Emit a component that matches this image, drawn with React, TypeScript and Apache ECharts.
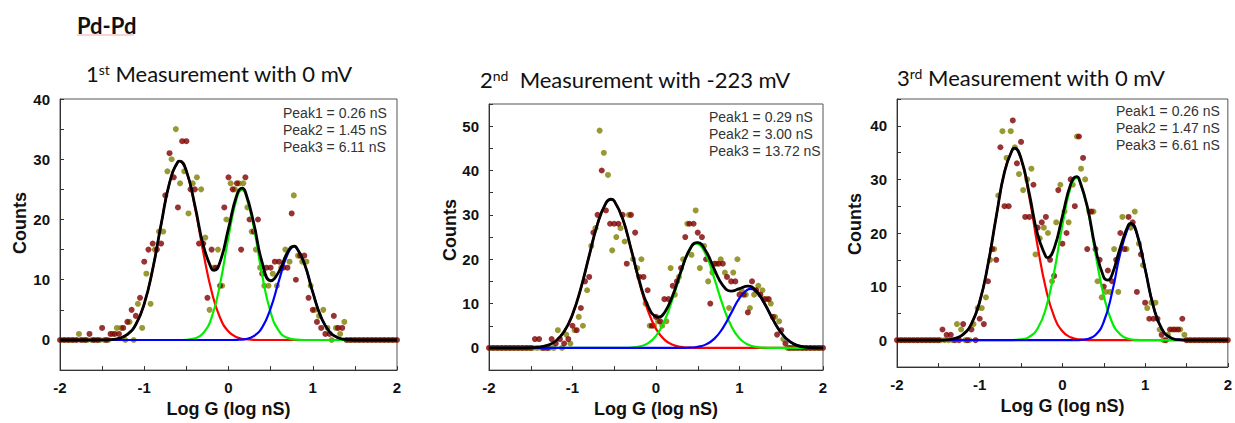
import React, { useEffect, useRef } from "react";
import * as echarts from "echarts";

// ---------- shared x positions ----------
const BINS_DR = [-2, -1.95, -1.9, -1.85, -1.8, -1.75, -1.7, -1.65, -1.6, -1.55, -1.5, -1.45, -1.4, -1.35, -1.3, -1.25, -1.2, -1.15, -1.1, -1.05,
  -1, -0.95, -0.9, -0.85, -0.8, -0.75, -0.7, -0.65, -0.6, -0.55, -0.5, -0.45, -0.4, -0.35, -0.3, -0.25, -0.2, -0.15, -0.1, -0.05,
  0, 0.05, 0.1, 0.15, 0.2, 0.25, 0.3, 0.35, 0.4, 0.45, 0.5, 0.55, 0.6, 0.65, 0.7, 0.75, 0.8, 0.85, 0.9, 0.95,
  1, 1.05, 1.1, 1.15, 1.2, 1.25, 1.3, 1.35, 1.4, 1.45, 1.5, 1.55, 1.6, 1.65, 1.7, 1.75, 1.8, 1.85, 1.9, 1.95, 2];
const BINS_OL = [-1.975, -1.925, -1.875, -1.825, -1.775, -1.725, -1.675, -1.625, -1.575, -1.525, -1.475, -1.425, -1.375, -1.325, -1.275, -1.225, -1.175, -1.125, -1.075, -1.025,
  -0.975, -0.925, -0.875, -0.825, -0.775, -0.725, -0.675, -0.625, -0.575, -0.525, -0.475, -0.425, -0.375, -0.325, -0.275, -0.225, -0.175, -0.125, -0.075, -0.025,
  0.025, 0.075, 0.125, 0.175, 0.225, 0.275, 0.325, 0.375, 0.425, 0.475, 0.525, 0.575, 0.625, 0.675, 0.725, 0.775, 0.825, 0.875, 0.925, 0.975,
  1.025, 1.075, 1.125, 1.175, 1.225, 1.275, 1.325, 1.375, 1.425, 1.475, 1.525, 1.575, 1.625, 1.675, 1.725, 1.775, 1.825, 1.875, 1.925, 1.975];
const FIT_X = [-2, -1.9, -1.8, -1.7, -1.6, -1.5, -1.4, -1.3, -1.2, -1.1,
  -1, -0.9, -0.8, -0.7, -0.6, -0.5, -0.4, -0.3, -0.2, -0.1,
  0, 0.1, 0.2, 0.3, 0.4, 0.5, 0.6, 0.7, 0.8, 0.9,
  1, 1.1, 1.2, 1.3, 1.4, 1.5, 1.6, 1.7, 1.8, 1.9, 2];

// ---------- panel 1 : 1st measurement, 0 mV ----------
const DR1 = [0, 0, 0, 0, 0, 0, 0, 1, 0, 0, 2, 0, 1, 1, 1, 2, 3, 5, 4, 7,
  13, 15, 16, 15, 16, 24, 31, 27, 22, 33, 33, 25, 25, 16, 16, 7, 15, 12, 9, 22,
  27, 25, 26, 15, 27, 20, 18, 20, 11, 12, 12, 13, 13, 12, 12, 21, 10, 14, 14, 7,
  5, 3, 2, 1, 1, 4, 2, 2, 0, 0, 0, 0, 0, 0, 0, 0, 0, 0, 0, 0, 0];
const OL1 = [0, 0, 0, 0, 1, 0, 0, 0, 0, 0, 0, 0, 1, 2, 2, 0, 3, 0, 6, 2,
  11, 6, 15, 18, 18, 28, 30, 35, 26, 28, 21, 26, 27, 25, 17, 5, 12, 15, 9, 20,
  26, 25, 26, 26, 22, 18, 15, 12, 9, 9, 11, 9, 12, 15, 13, 24, 14, 13, 13, 9,
  5, 4, 5, 2, 0, 2, 1, 3, 0, 0, 0, 0, 0, 0, 0, 0, 0, 0, 0, 0];
const RED1 = [0, 0, 0, 0, 0, 0.01, 0.07, 0.27, 0.92, 2.57,
  6.01, 11.75, 19.16, 26.07, 29.6, 28.03, 22.15, 14.6, 8.04, 3.69,
  1.41, 0.45, 0.12, 0.03, 0, 0, 0, 0, 0, 0,
  0, 0, 0, 0, 0, 0, 0, 0, 0, 0, 0];
const GREEN1 = [0, 0, 0, 0, 0, 0, 0, 0, 0, 0,
  0, 0, 0, 0, 0, 0.04, 0.26, 1.13, 3.75, 9.28,
  17.13, 23.63, 24.33, 18.7, 10.73, 4.6, 1.47, 0.35, 0.06, 0,
  0, 0, 0, 0, 0, 0, 0, 0, 0, 0, 0];
const BLUE1 = [0, 0, 0, 0, 0, 0, 0, 0, 0, 0,
  0, 0, 0, 0, 0, 0, 0, 0, 0, 0,
  0, 0.03, 0.15, 0.64, 2.1, 5.23, 9.9, 14.19, 15.41, 12.7,
  7.93, 3.75, 1.35, 0.37, 0.08, 0, 0, 0, 0, 0, 0];
const BLACK1 = [0, 0, 0, 0, 0, 0.01, 0.07, 0.27, 0.92, 2.57,
  6.01, 11.75, 19.16, 26.07, 29.6, 28.07, 22.41, 15.73, 11.79, 12.97,
  18.54, 24.11, 24.6, 19.37, 12.83, 9.83, 11.37, 14.54, 15.47, 12.7,
  7.93, 3.75, 1.35, 0.37, 0.08, 0, 0, 0, 0, 0, 0];
// extra points read at the peaks / valleys of each fitted curve: [x, y]
const RED1_EXTRA = [[-0.58, 29.7]];
const GREEN1_EXTRA = [[0.16, 24.9]];
const BLUE1_EXTRA = [[0.78, 15.5]];
const BLACK1_EXTRA = [[-0.58, 29.7], [-0.17, 11.55], [0.16, 25.19], [0.78, 15.59]];
const PEAKS1 = ["Peak1 = 0.26 nS", "Peak2 = 1.45 nS", "Peak3 = 6.11 nS"];

// ---------- panel 2 : 2nd measurement, -223 mV ----------
const DR2 = [0, 0, 0, 0, 0, 0, 0, 0, 0, 0, 0, 2, 2, 0, 0, 2, 1, 2, 1, 2,
  5, 4, 9, 15, 16, 26, 30, 40, 31, 28, 28, 28, 30, 19, 30, 26, 16, 16, 13, 5,
  7, 6, 11, 11, 14, 15, 18, 25, 28, 28, 26, 25, 20, 10, 19, 19, 19, 16, 15, 15,
  12, 12, 8, 15, 13, 12, 11, 11, 7, 3, 4, 1, 0, 0, 0, 0, 0, 0, 0, 0, 0];
const OL2 = [0, 0, 0, 0, 0, 0, 0, 0, 0, 0, 0, 0, 0, 0, 0, 0, 4, 0, 3, 1,
  4, 7, 5, 13, 23, 27, 49, 44, 39, 22, 25, 27, 24, 30, 20, 18, 20, 10, 5, 5,
  6, 5, 6, 18, 12, 16, 20, 28, 21, 31, 18, 23, 15, 17, 19, 20, 17, 9, 17, 20,
  13, 12, 9, 12, 14, 13, 11, 10, 7, 6, 2, 0, 0, 0, 0, 0, 0, 0, 0, 0];
const RED2 = [0, 0, 0, 0, 0.01, 0.05, 0.18, 0.57, 1.56, 3.69,
  7.55, 13.45, 20.81, 27.97, 32.66, 33.12, 29.18, 22.33, 14.84, 8.57,
  4.3, 1.87, 0.71, 0.23, 0.07, 0.02, 0, 0, 0, 0,
  0, 0, 0, 0, 0, 0, 0, 0, 0, 0, 0];
const GREEN2 = [0, 0, 0, 0, 0, 0, 0, 0, 0, 0,
  0, 0, 0, 0, 0, 0, 0.02, 0.08, 0.32, 1.02,
  2.72, 6.02, 11.11, 17.1, 21.94, 23.46, 20.92, 15.56, 9.64, 4.98,
  2.15, 0.77, 0.23, 0.06, 0.01, 0, 0, 0, 0, 0, 0];
const BLUE2 = [0, 0, 0, 0, 0, 0, 0, 0, 0, 0,
  0, 0, 0, 0, 0, 0, 0, 0, 0, 0,
  0, 0, 0, 0, 0.06, 0.25, 0.8, 2.09, 4.48, 7.84,
  11.23, 13.18, 12.66, 9.96, 6.42, 3.38, 1.46, 0.52, 0.15, 0.04, 0.01];
const BLACK2 = [0, 0, 0, 0, 0.01, 0.05, 0.18, 0.57, 1.56, 3.69,
  7.55, 13.45, 20.81, 27.97, 32.66, 33.12, 29.2, 22.41, 15.16, 9.59,
  7.02, 7.89, 11.82, 17.33, 22.07, 23.73, 21.72, 17.65, 14.12, 12.82,
  13.38, 13.95, 12.89, 10.02, 6.43, 3.38, 1.46, 0.52, 0.15, 0.04, 0.01];
const RED2_EXTRA = [[-0.54, 33.5]];
const GREEN2_EXTRA = [[0.487, 23.5]];
const BLUE2_EXTRA = [[1.13, 13.3]];
const BLACK2_EXTRA = [[-0.54, 33.52], [0.03, 6.92], [0.487, 23.73]];
const PEAKS2 = ["Peak1 = 0.29 nS", "Peak2 = 3.00 nS", "Peak3 = 13.72 nS"];

// ---------- panel 3 : 3rd measurement, 0 mV ----------
const DR3 = [0, 0, 0, 0, 0, 0, 0, 0, 0, 0, 0, 2, 1, 1, 0, 0, 3, 0, 2, 0,
  4, 3, 11, 17, 15, 36, 25, 25, 41, 33, 37, 23, 23, 29, 21, 22, 23, 15, 12, 28,
  18, 20, 30, 25, 38, 34, 17, 24, 17, 15, 10, 13, 11, 15, 20, 17, 23, 22, 9, 16,
  7, 4, 4, 4, 1, 0, 2, 2, 2, 4, 0, 0, 0, 0, 0, 0, 0, 0, 0, 0, 0];
const OL3 = [0, 0, 0, 0, 0, 0, 0, 0, 0, 0, 0, 0, 0, 0, 3, 2, 0, 0, 3, 6,
  6, 8, 15, 17, 27, 39, 34, 39, 36, 31, 28, 30, 32, 16, 19, 21, 20, 11, 22, 29,
  24, 22, 29, 38, 32, 30, 24, 24, 11, 8, 9, 9, 17, 9, 23, 17, 21, 24, 18, 14,
  6, 7, 7, 2, 0, 1, 2, 2, 2, 1, 0, 0, 0, 0, 0, 0, 0, 0, 0, 0];
const RED3 = [0, 0, 0, 0, 0, 0.02, 0.08, 0.32, 1.09, 3.06,
  7.2, 14.11, 23.06, 31.4, 35.67, 33.78, 26.67, 17.55, 9.63, 4.41,
  1.68, 0.53, 0.14, 0.03, 0, 0, 0, 0, 0, 0,
  0, 0, 0, 0, 0, 0, 0, 0, 0, 0, 0];
const GREEN3 = [0, 0, 0, 0, 0, 0, 0, 0, 0, 0,
  0, 0, 0, 0, 0.03, 0.14, 0.63, 2.18, 5.94, 12.72,
  21.48, 28.58, 29.98, 24.78, 16.14, 8.29, 3.35, 1.07, 0.27, 0.05,
  0.01, 0, 0, 0, 0, 0, 0, 0, 0, 0, 0];
const BLUE3 = [0, 0, 0, 0, 0, 0, 0, 0, 0, 0,
  0, 0, 0, 0, 0, 0, 0, 0, 0, 0,
  0, 0, 0.03, 0.19, 0.95, 3.44, 8.85, 16.24, 21.28, 19.89,
  13.27, 6.32, 2.15, 0.52, 0.09, 0.01, 0, 0, 0, 0, 0];
const BLACK3 = [0, 0, 0, 0, 0, 0.02, 0.08, 0.32, 1.09, 3.06,
  7.2, 14.11, 23.06, 31.4, 35.7, 33.92, 27.3, 19.73, 15.57, 17.13,
  23.16, 29.11, 30.15, 25.0, 17.09, 11.73, 12.2, 17.31, 21.55, 19.94,
  13.28, 6.32, 2.15, 0.52, 0.09, 0.01, 0, 0, 0, 0, 0];
const RED3_EXTRA = [[-0.58, 35.8]];
const GREEN3_EXTRA = [[0.17, 30.3]];
const BLUE3_EXTRA = [[0.83, 21.6]];
const BLACK3_EXTRA = [[-0.58, 35.84], [-0.18, 15.41], [0.17, 30.53], [0.55, 11.19], [0.83, 21.77]];
const PEAKS3 = ["Peak1 = 0.26 nS", "Peak2 = 1.47 nS", "Peak3 = 6.61 nS"];

// ---------- texts ----------
const HEADING = "Pd-Pd";
const TITLES = [
  ["1", "st", " Measurement with 0 mV"],
  ["2", "nd", "  Measurement with -223 mV"],
  ["3", "rd", " Measurement with 0 mV"],
];
const X_NAME = "Log G (log nS)";
const Y_NAME = "Counts";
const Y_MAX = [40, 55, 45];

// ---------- layout ----------
const LAYOUT = [
  { grid: { left: 60, top: 99, width: 337, height: 272 }, title: [86, 73], yName: [20, 223], peaks: [283, 113] },
  { grid: { left: 489, top: 104, width: 334, height: 270 }, title: [480, 79], yName: [450, 230], peaks: [709, 117] },
  { grid: { left: 897, top: 99, width: 332, height: 268 }, title: [897, 77], yName: [855, 224], peaks: [1116, 111] },
];

const DATA = [
  { dr: DR1, ol: OL1, peaks: PEAKS1,
    curves: [[RED1, RED1_EXTRA], [GREEN1, GREEN1_EXTRA], [BLUE1, BLUE1_EXTRA], [BLACK1, BLACK1_EXTRA]] },
  { dr: DR2, ol: OL2, peaks: PEAKS2,
    curves: [[RED2, RED2_EXTRA], [GREEN2, GREEN2_EXTRA], [BLUE2, BLUE2_EXTRA], [BLACK2, BLACK2_EXTRA]] },
  { dr: DR3, ol: OL3, peaks: PEAKS3,
    curves: [[RED3, RED3_EXTRA], [GREEN3, GREEN3_EXTRA], [BLUE3, BLUE3_EXTRA], [BLACK3, BLACK3_EXTRA]] },
];
const CURVE_STYLE = [
  { color: "#ff0000", width: 2.2 },
  { color: "#00ee00", width: 2.2 },
  { color: "#0000ff", width: 2.2 },
  { color: "#000000", width: 2.8 },
];

const pairs = (xs: number[], ys: number[]) => xs.map((x, i) => [x, ys[i]]);
const mergeCurve = (ys: number[], extra: number[][]) =>
  pairs(FIT_X, ys)
    .filter(([x]) => !extra.some(([ex]) => Math.abs(ex - x) < 1e-9))
    .concat(extra.map(([x, y]) => [x, y]))
    .sort((a, b) => a[0] - b[0]);

export default function App() {
  const ref = useRef<HTMLDivElement>(null);
  useEffect(() => {
    const chart = echarts.init(ref.current!, null, { renderer: "svg" });
    const axisColor = "#333";
    const grids: any[] = [];
    const xAxes: any[] = [];
    const yAxes: any[] = [];
    const series: any[] = [];
    const graphics: any[] = [];

    graphics.push({
      type: "text", x: 77, y: 25,
      style: { text: HEADING, fontFamily: "Lato", fontWeight: "bold", fontSize: 22, fill: "#111", verticalAlign: "middle" },
    });
    graphics.push({
      type: "line", shape: { x1: 77, y1: 35, x2: 134, y2: 35 },
      style: { stroke: "#f2a9a9", lineWidth: 1 },
    });

    LAYOUT.forEach((lay, i) => {
      const d = DATA[i];
      grids.push({ ...lay.grid, show: true, borderColor: "#555", borderWidth: 1, containLabel: false });
      xAxes.push({
        type: "value", gridIndex: i, min: -2, max: 2, interval: 0.5,
        axisLine: { show: true, onZero: false, lineStyle: { color: axisColor, width: 1 } },
        axisTick: { show: true, inside: true, length: 4, lineStyle: { color: axisColor } },
        splitLine: { show: false },
        axisLabel: {
          margin: 10, color: "#111", fontFamily: "Liberation Sans", fontWeight: "bold", fontSize: 15,
          formatter: (v: number) => (Number.isInteger(v) ? String(v) : ""),
        },
        name: X_NAME, nameLocation: "middle", nameGap: 29,
        nameTextStyle: { fontFamily: "Liberation Sans", fontWeight: "bold", fontSize: 18, color: "#111" },
      });
      yAxes.push({
        type: "value", gridIndex: i, min: -5, max: Y_MAX[i], interval: 5,
        axisLine: { show: true, onZero: false, lineStyle: { color: axisColor, width: 1 } },
        axisTick: { show: true, inside: true, length: 4, lineStyle: { color: axisColor } },
        splitLine: { show: false },
        axisLabel: {
          margin: 10, color: "#111", fontFamily: "Liberation Sans", fontWeight: "bold", fontSize: 15,
          formatter: (v: number) => (v >= 0 && v % 10 === 0 ? String(v) : ""),
        },
      });
      series.push({
        type: "scatter", xAxisIndex: i, yAxisIndex: i, symbolSize: 6,
        itemStyle: { color: "#808000" }, data: pairs(BINS_OL, d.ol), z: 2,
      });
      series.push({
        type: "scatter", xAxisIndex: i, yAxisIndex: i, symbolSize: 6,
        itemStyle: { color: "#800000" }, data: pairs(BINS_DR, d.dr), z: 2,
      });
      d.curves.forEach(([ys, extra]: any, k: number) => {
        const st = CURVE_STYLE[k];
        series.push({
          type: "line", xAxisIndex: i, yAxisIndex: i, showSymbol: false, smooth: 0.5,
          lineStyle: { color: st.color, width: st.width }, itemStyle: { color: st.color },
          data: mergeCurve(ys, extra), z: 3,
        });
      });

      const [t0, t1, t2] = TITLES[i];
      graphics.push({
        type: "text", x: lay.title[0], y: lay.title[1],
        style: {
          text: `{m|${t0}}{s|${t1}}{m|${t2}}`,
          verticalAlign: "middle",
          rich: {
            m: { fontFamily: "Lato", fontSize: 22, fill: "#111" },
            s: { fontFamily: "Lato", fontSize: 14, fill: "#111", verticalAlign: "top" },
          },
        },
      });
      graphics.push({
        type: "text", x: lay.yName[0], y: lay.yName[1], rotation: Math.PI / 2,
        style: {
          text: Y_NAME, align: "center", verticalAlign: "middle",
          fontFamily: "Liberation Sans", fontWeight: "bold", fontSize: 18, fill: "#111",
        },
      });
      d.peaks.forEach((p: string, k: number) => {
        graphics.push({
          type: "text", x: lay.peaks[0], y: lay.peaks[1] + k * 17,
          style: { text: p, verticalAlign: "middle", fontFamily: "Liberation Sans", fontSize: 14, fill: "#333" },
        });
      });
    });

    chart.setOption({
      animation: false,
      backgroundColor: "#ffffff",
      grid: grids,
      xAxis: xAxes,
      yAxis: yAxes,
      series,
      graphic: graphics,
    });
    return () => chart.dispose();
  }, []);
  return <div ref={ref} style={{ position: "absolute", left: 0, top: 0, width: 1235, height: 423 }} />;
}
